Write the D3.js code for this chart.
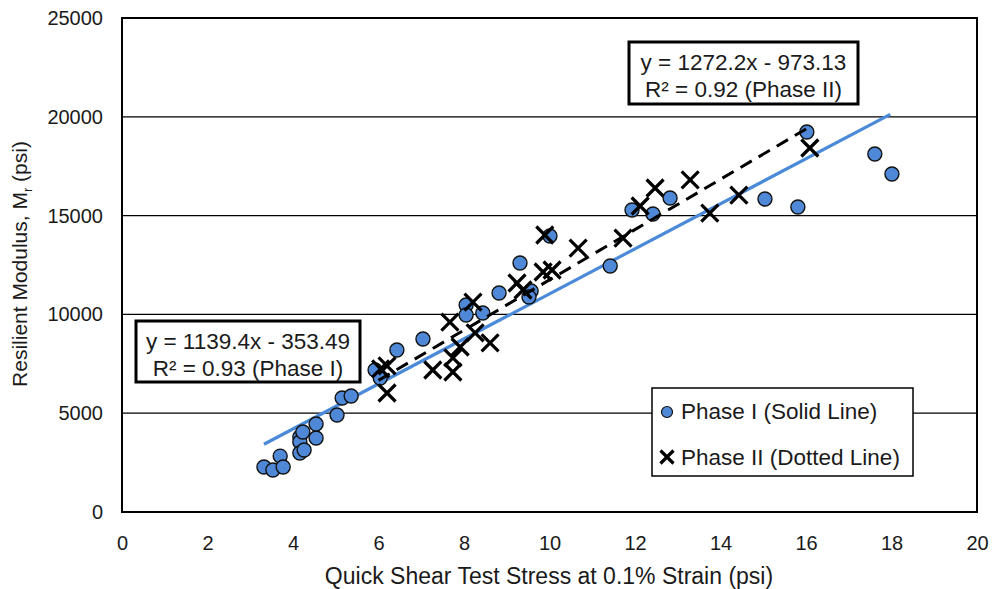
<!DOCTYPE html>
<html>
<head>
<meta charset="utf-8">
<script src="https://cdn.jsdelivr.net/npm/d3@7"></script>
<style>
  body { margin: 0; background: #fff; }
  svg text { font-family: "Liberation Sans", Arial, sans-serif; fill: #1a1a1a; }
</style>
</head>
<body>
<svg id="chart" width="992" height="589"></svg>
<script>
// ---- Data ----
const phase1X = [3.32, 3.53, 3.70, 3.77, 4.16, 4.16, 4.16, 4.26, 4.23, 4.54, 4.54, 5.03, 5.15, 5.36,
  5.92, 6.04, 6.43, 7.04, 8.05, 8.05, 8.44, 8.82, 9.31, 10.01, 9.57, 9.52, 11.42, 11.93, 12.42,
  12.82, 15.04, 15.81, 16.02, 17.61, 18.01];
const phase1Y = [2277, 2125, 2830, 2277, 3795, 3543, 2986, 3138, 4049, 3745, 4453, 4909, 5769, 5870,
  7186, 6781, 8198, 8755, 10476, 9970, 10071, 11083, 12601, 13968, 11184, 10880, 12449, 15283, 15081,
  15891, 15840, 15435, 19231, 18117, 17105];
const phase2X = [6.05, 6.20, 6.20, 7.27, 7.74, 7.74, 7.67, 7.91, 8.21, 8.26, 8.61, 9.24, 9.38, 9.85,
  10.06, 9.89, 10.67, 11.72, 12.12, 12.47, 13.29, 13.75, 14.43, 16.09];
const phase2Y = [7240, 7390, 6022, 7186, 7794, 7085, 9615, 8350, 10627, 9060, 8553, 11589, 11235, 12146,
  12247, 14018, 13360, 13866, 15486, 16397, 16802, 15131, 16042, 18421];
const fit1 = { slope: 1139.4, intercept: -353.49, x0: 3.32, x1: 17.97 };
const fit2 = { slope: 1272.2, intercept: -973.13, x0: 6.0, x1: 16.1 };
const xTicks = [0, 2, 4, 6, 8, 10, 12, 14, 16, 18, 20];
const yTicks = [0, 5000, 10000, 15000, 20000, 25000];
const eq1Lines = ["y = 1139.4x  - 353.49", "R² = 0.93 (Phase I)"];
const eq2Lines = ["y = 1272.2x  - 973.13", "R² = 0.92 (Phase II)"];
const legendLabels = ["Phase I (Solid Line)", "Phase II (Dotted Line)"];

// ---- Layout ----
const svg = d3.select("#chart");
const L = 122, R = 977, T = 18, B = 512;
const x = d3.scaleLinear().domain([0, 20]).range([L, R]);
const y = d3.scaleLinear().domain([0, 25000]).range([B, T]);

// gridlines
svg.append("g").selectAll("line").data(yTicks.filter(d => d > 0 && d < 25000)).join("line")
  .attr("x1", L).attr("x2", R).attr("y1", d => y(d)).attr("y2", d => y(d))
  .attr("stroke", "#000").attr("stroke-width", 1.2);

// frame
svg.append("rect").attr("x", L).attr("y", T).attr("width", R - L).attr("height", B - T)
  .attr("fill", "none").attr("stroke", "#000").attr("stroke-width", 2);

// axes labels
const xAxis = d3.axisBottom(x).tickValues(xTicks).tickSize(0).tickPadding(0).tickFormat(d3.format("d"));
const gx = svg.append("g").attr("transform", `translate(0,${B + 24})`).call(xAxis);
gx.select(".domain").remove();
gx.selectAll("text").attr("font-size", 20).attr("font-family", "Liberation Sans, Arial, sans-serif").attr("fill", "#1a1a1a");

const yAxis = d3.axisLeft(y).tickValues(yTicks).tickSize(0).tickPadding(0).tickFormat(d3.format("d"));
const gy = svg.append("g").attr("transform", `translate(${L - 19},0)`).call(yAxis);
gy.select(".domain").remove();
gy.selectAll("text").attr("font-size", 20).attr("font-family", "Liberation Sans, Arial, sans-serif").attr("fill", "#1a1a1a");

// axis titles
svg.append("text").attr("x", 549).attr("y", 584).attr("text-anchor", "middle")
  .attr("font-size", 23).text("Quick Shear Test Stress at 0.1% Strain (psi)");
const yt = svg.append("text").attr("transform", `translate(27,264) rotate(-90)`)
  .attr("text-anchor", "middle").attr("font-size", 21);
yt.append("tspan").text("Resilient Modulus, M");
yt.append("tspan").attr("font-size", 13).attr("dy", 5).text("r");
yt.append("tspan").attr("dy", -5).text(" (psi)");

// trendline 1 (solid blue)
svg.append("line")
  .attr("x1", x(fit1.x0)).attr("y1", y(fit1.slope * fit1.x0 + fit1.intercept))
  .attr("x2", x(fit1.x1)).attr("y2", y(fit1.slope * fit1.x1 + fit1.intercept))
  .attr("stroke", "#4a8ad8").attr("stroke-width", 3.2);

// phase I circles
const p1 = phase1X.map((d, i) => [d, phase1Y[i]]);
svg.append("g").selectAll("circle").data(p1).join("circle")
  .attr("cx", d => x(d[0])).attr("cy", d => y(d[1])).attr("r", 7)
  .attr("fill", "#4f88d6").attr("stroke", "#111").attr("stroke-width", 1.4);

// trendline 2 (dashed black)
svg.append("line")
  .attr("x1", x(fit2.x0)).attr("y1", y(fit2.slope * fit2.x0 + fit2.intercept))
  .attr("x2", x(fit2.x1)).attr("y2", y(fit2.slope * fit2.x1 + fit2.intercept))
  .attr("stroke", "#000").attr("stroke-width", 3).attr("stroke-dasharray", "13,8");

// phase II crosses
const p2 = phase2X.map((d, i) => [d, phase2Y[i]]);
const s = 8.5;
const crossPath = `M${-s},${-s}L${s},${s}M${-s},${s}L${s},${-s}`;
svg.append("g").selectAll("path").data(p2).join("path")
  .attr("transform", d => `translate(${x(d[0])},${y(d[1])})`)
  .attr("d", crossPath).attr("stroke", "#000").attr("stroke-width", 3.2).attr("fill", "none");

// equation boxes
function eqBox(x0, y0, w, h, lines) {
  const g = svg.append("g");
  g.append("rect").attr("x", x0).attr("y", y0).attr("width", w).attr("height", h)
    .attr("fill", "#fff").attr("stroke", "#000").attr("stroke-width", 3);
  g.selectAll("text").data(lines).join("text")
    .attr("x", x0 + w / 2).attr("y", (d, i) => y0 + 28 + i * 27)
    .attr("text-anchor", "middle").attr("font-size", 22.5).text(d => d);
}
eqBox(136, 321, 224, 61, eq1Lines);
eqBox(629, 42, 229, 62, eq2Lines);

// legend
const lg = svg.append("g");
lg.append("rect").attr("x", 652).attr("y", 388).attr("width", 261).attr("height", 88)
  .attr("fill", "#fff").attr("stroke", "#000").attr("stroke-width", 1.5);
lg.append("circle").attr("cx", 667).attr("cy", 412).attr("r", 5.5)
  .attr("fill", "#4f88d6").attr("stroke", "#111").attr("stroke-width", 1.2);
const ls = 6.5;
lg.append("path").attr("transform", "translate(667,457)")
  .attr("d", `M${-ls},${-ls}L${ls},${ls}M${-ls},${ls}L${ls},${-ls}`)
  .attr("stroke", "#000").attr("stroke-width", 3.2);
lg.selectAll("text").data(legendLabels).join("text")
  .attr("x", 681).attr("y", (d, i) => 419 + i * 46).attr("font-size", 22.5).text(d => d);
</script>
</body>
</html>
